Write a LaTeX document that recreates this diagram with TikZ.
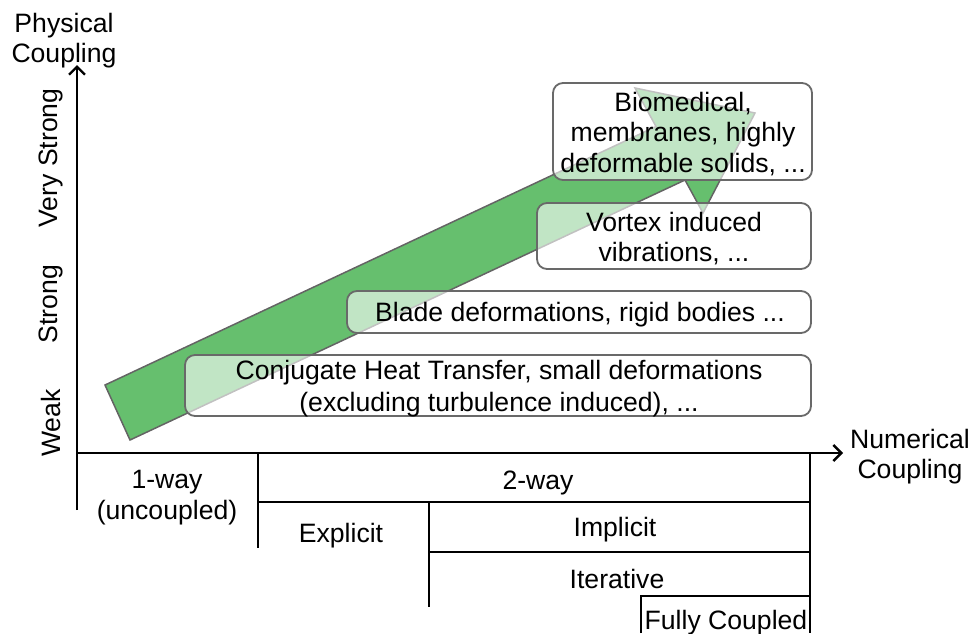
\documentclass[tikz,border=0pt]{standalone}
\usepackage{fontspec}
\setmainfont{Liberation Sans}
\usetikzlibrary{arrows.meta}
\definecolor{arrowgreen}{RGB}{102,191,110}
\definecolor{arrowedge}{RGB}{100,100,100}
\definecolor{boxgray}{RGB}{105,105,105}
\begin{document}
\begin{tikzpicture}[x=1pt,y=-1pt,
  lbl/.style={font=\fontsize{26.6}{30.5}\selectfont, inner sep=0pt, align=center},
  casebox/.style={draw=boxgray, line width=1.8pt, rounded corners=10pt, fill=white, fill opacity=0.6, inner sep=0pt},
  axisline/.style={line width=2.6pt, -{Straight Barb[length=8pt,width=16pt,line width=2.4pt]}},
  tline/.style={line width=2.4pt},
  bigarrow/.style={fill=arrowgreen, draw=arrowedge, line width=1.5pt, line join=miter}]
\useasboundingbox (0,0) rectangle (973,633);

% big block arrow
\draw[bigarrow] (105,385) -- (656,126.5) -- (635,88) -- (755,113) -- (703,213) -- (685,180) -- (130,440) -- cycle;

% case boxes
\node[casebox, minimum width=626pt, minimum height=61pt] (conj) at (498,385.5) {};
\node[casebox, minimum width=464pt, minimum height=42pt] (blade) at (579,312) {};
\node[casebox, minimum width=274pt, minimum height=66pt] (vortex) at (674,236) {};
\node[casebox, minimum width=259pt, minimum height=97pt] (bio) at (682.5,131.5) {};
\node[lbl, font=\fontsize{26.6}{32}\selectfont] (conjtext) at (499,388.5)
  {Conjugate Heat Transfer, small deformations\\(excluding turbulence induced), ...};
\node[lbl] (bladetext) at (580,315) {Blade deformations, rigid bodies ...};
\node[lbl] (vortextext) at (674,238.5) {Vortex induced\\vibrations, ...};
\node[lbl] (biotext) at (683,134) {Biomedical,\\membranes, highly\\deformable solids, ...};

% axes
\coordinate (origin) at (77,453);
\coordinate (ybottom) at (77,510);
\coordinate (ytop) at (77,65);
\coordinate (xend) at (843,453);
\draw[axisline] (ybottom) -- (ytop);
\draw[axisline] (origin) -- (xend);

% table lines
\coordinate (a1) at (258,453); \coordinate (a2) at (258,548);
\coordinate (b1) at (258,502); \coordinate (b2) at (810,502);
\coordinate (c1) at (810,453); \coordinate (c2) at (810,633);
\coordinate (d1) at (429,502); \coordinate (d2) at (429,607);
\coordinate (e1) at (429,552); \coordinate (e2) at (810,552);
\coordinate (f1) at (641,633); \coordinate (f2) at (641,596); \coordinate (f3) at (810,596);
\draw[tline] (a1) -- (a2);
\draw[tline] (b1) -- (b2);
\draw[tline] (c1) -- (c2);
\draw[tline] (d1) -- (d2);
\draw[tline] (e1) -- (e2);
\draw[tline] (f1) -- (f2) -- (f3);

% axis labels
\node[lbl] (ylabel) at (64,40.5) {Physical\\Coupling};
\node[lbl] (xlabel) at (910,456.5) {Numerical\\Coupling};
\node[lbl, rotate=90] (vs) at (51,158) {Very Strong};
\node[lbl, rotate=90] (st) at (51,304) {Strong};
\node[lbl, rotate=90] (wk) at (51,423) {Weak};

% table labels
\node[lbl] (oneway) at (167,497.5) {1-way\\(uncoupled)};
\node[lbl] (twoway) at (538,482.5) {2-way};
\node[lbl] (expl) at (341,535.5) {Explicit};
\node[lbl] (impl) at (615,529.5) {Implicit};
\node[lbl] (iter) at (617,578.5) {Iterative};
\node[lbl] (full) at (726,622.5) {Fully Coupled};
\end{tikzpicture}
\end{document}
